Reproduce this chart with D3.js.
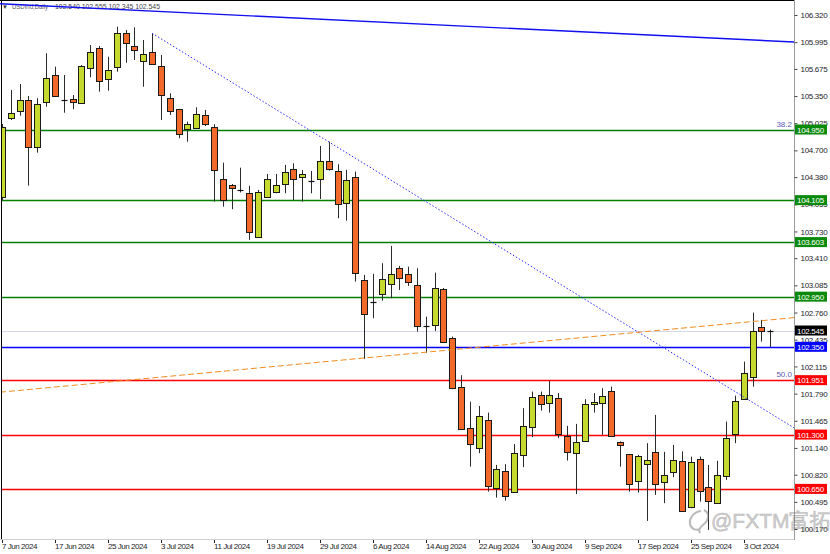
<!DOCTYPE html>
<html><head><meta charset="utf-8">
<script src="https://cdn.jsdelivr.net/npm/d3@7"></script>
<style>
body{margin:0;background:#fff}
svg{display:block}
text{font-family:"Liberation Sans",Arial,sans-serif}
</style>
</head><body>
<svg id="c" width="830" height="554"></svg>
<script>
// ---------- data ----------
const symbol = "USDInd,Daily";
const dates = [
"2024-06-07","2024-06-10","2024-06-11","2024-06-12","2024-06-13","2024-06-14","2024-06-17","2024-06-18","2024-06-19","2024-06-20","2024-06-21","2024-06-24","2024-06-25","2024-06-26","2024-06-27","2024-06-28",
"2024-07-01","2024-07-02","2024-07-03","2024-07-04","2024-07-05","2024-07-08","2024-07-09","2024-07-10","2024-07-11","2024-07-12","2024-07-15","2024-07-16","2024-07-17","2024-07-18","2024-07-19","2024-07-22","2024-07-23","2024-07-24","2024-07-25","2024-07-26","2024-07-29","2024-07-30","2024-07-31",
"2024-08-01","2024-08-02","2024-08-05","2024-08-06","2024-08-07","2024-08-08","2024-08-09","2024-08-12","2024-08-13","2024-08-14","2024-08-15","2024-08-16","2024-08-19","2024-08-20","2024-08-21","2024-08-22","2024-08-23","2024-08-26","2024-08-27","2024-08-28","2024-08-29","2024-08-30",
"2024-09-02","2024-09-03","2024-09-04","2024-09-05","2024-09-06","2024-09-09","2024-09-10","2024-09-11","2024-09-12","2024-09-13","2024-09-16","2024-09-17","2024-09-18","2024-09-19","2024-09-20","2024-09-23","2024-09-24","2024-09-25","2024-09-26","2024-09-27","2024-09-30",
"2024-10-01","2024-10-02","2024-10-03","2024-10-04","2024-10-07","2024-10-08"];
const open = [104.143,105.084,105.172,105.303,104.737,105.283,105.602,105.300,105.312,105.264,105.682,105.922,105.551,105.702,106.108,105.946,
105.773,105.881,105.710,105.324,105.192,104.960,104.972,105.120,104.984,104.362,104.284,104.224,104.187,103.664,104.143,104.206,104.295,104.478,104.379,104.334,104.358,104.574,104.454,
104.068,104.379,103.150,102.891,102.979,103.106,103.297,103.222,103.090,102.600,102.612,103.042,102.453,101.867,101.376,101.137,101.472,100.666,100.862,100.611,101.057,101.388,
101.778,101.682,101.735,101.284,101.077,101.224,101.670,101.673,101.819,101.209,101.066,100.743,100.949,101.089,100.737,100.847,100.987,100.431,101.005,100.670,100.479,
100.806,101.304,101.723,101.993,102.585,102.540];
const high = [105.016,105.423,105.495,105.351,105.324,105.862,105.702,105.602,105.363,105.722,105.961,105.949,105.821,106.180,106.141,106.173,
106.021,106.101,105.842,105.383,105.196,105.044,105.216,105.184,105.013,104.553,104.298,104.493,104.275,104.227,104.418,104.418,104.526,104.546,104.466,104.454,104.753,104.804,104.534,
104.466,104.446,103.210,103.222,103.350,103.557,103.318,103.309,103.290,102.711,103.237,103.054,102.472,102.010,101.694,101.643,101.563,100.937,100.946,101.188,101.615,101.814,
101.814,101.942,101.795,101.404,101.428,101.723,101.795,101.855,101.874,101.218,101.068,101.057,101.197,101.535,101.093,101.176,101.099,101.036,101.036,100.937,100.985,
101.455,101.766,102.173,102.759,102.672,102.555];
const low = [104.107,105.064,105.115,104.278,104.673,105.223,105.351,105.151,105.192,105.260,105.575,105.403,105.415,105.642,105.749,105.782,
105.462,105.722,105.064,105.124,104.845,104.804,104.968,104.992,104.087,104.027,103.996,104.197,103.629,103.652,104.140,104.187,104.187,104.107,104.087,104.187,104.119,104.458,103.888,
103.859,103.130,102.205,102.692,102.902,102.931,103.030,103.078,102.532,102.277,102.540,102.402,101.843,101.360,100.917,101.077,100.618,100.546,100.510,100.607,100.910,101.269,
101.587,101.563,101.257,100.989,100.587,101.220,101.563,101.296,101.276,100.917,100.618,100.606,100.267,100.578,100.479,100.790,100.381,100.419,100.498,100.160,100.471,
100.758,101.197,101.715,101.874,102.412,102.345];
const close = [104.980,105.144,105.303,104.745,105.252,105.563,105.355,105.297,105.276,105.710,105.881,105.534,105.662,106.101,105.981,105.905,
105.854,105.734,105.367,105.172,104.893,105.013,105.132,105.013,104.466,104.107,104.245,104.222,103.721,104.199,104.358,104.286,104.438,104.355,104.418,104.319,104.577,104.478,104.059,
104.346,103.230,102.740,102.889,103.162,103.218,103.170,103.123,102.603,102.598,103.051,102.412,101.862,101.364,101.185,101.523,100.682,100.886,100.570,101.077,101.404,101.754,
101.663,101.771,101.304,101.096,101.216,101.667,101.694,101.763,101.280,101.174,100.710,101.045,100.995,100.707,100.815,100.993,100.387,100.977,100.626,100.507,100.818,
101.257,101.703,102.034,102.540,102.540,102.545];

const tickDates = ["2024-06-07","2024-06-17","2024-06-25","2024-07-03","2024-07-11","2024-07-19","2024-07-29","2024-08-06","2024-08-14","2024-08-22","2024-08-30","2024-09-09","2024-09-17","2024-09-25","2024-10-03"];
const tickLabels = ["7 Jun 2024","17 Jun 2024","25 Jun 2024","3 Jul 2024","11 Jul 2024","19 Jul 2024","29 Jul 2024","6 Aug 2024","14 Aug 2024","22 Aug 2024","30 Aug 2024","9 Sep 2024","17 Sep 2024","25 Sep 2024","3 Oct 2024"];
const priceTicks = [106.320,105.995,105.675,105.350,105.025,104.700,104.380,104.055,103.730,103.410,103.085,102.760,102.435,102.115,101.790,101.465,101.140,100.820,100.495,100.170];

const levelValues = [104.950,104.105,103.603,102.950,102.350,101.951,101.300,100.650];
const levelKinds  = ["res","res","res","res","pivot","sup","sup","sup"];
const fibValues = [104.950,101.951];
const fibLabels = ["38.2","50.0"];
const lastPrice = 102.545;

// trend lines: [bar index, price]
const trendSolid  = [[0,106.453],[89.7,105.997]];
const trendDotted = [[17,106.101],[89.7,101.380]];
const trendOrange = [[0,101.809],[89.7,102.699]];

// ---------- drawing ----------
const plotL = 2, plotR = 794, plotT = 0, plotB = 539;
const svg = d3.select("#c");

const x = d3.scaleLinear().domain([0, 87]).range([2, 770.2]);
const y = d3.scaleLinear().domain([100.170, 106.320]).range([529, 15]);

const colors = {res:"#008000", pivot:"#0000ff", sup:"#ff0000"};

svg.append("defs").append("clipPath").attr("id","plot")
  .append("rect").attr("x",plotL).attr("y",plotT).attr("width",plotR-plotL).attr("height",plotB-plotT);

const g = svg.append("g").attr("clip-path","url(#plot)");

// last price line
g.append("line").attr("x1",plotL).attr("x2",plotR)
  .attr("y1",Math.round(y(lastPrice))+0.5).attr("y2",Math.round(y(lastPrice))+0.5)
  .attr("stroke","#d6d6ea").attr("stroke-width",1);

// horizontal levels
levelValues.forEach((v,i)=>{
  const yy = Math.round(y(v))+0.5;
  g.append("line").attr("x1",plotL).attr("x2",plotR).attr("y1",yy).attr("y2",yy)
    .attr("stroke",colors[levelKinds[i]]).attr("stroke-width",1.3);
});

// fib labels
fibValues.forEach((v,i)=>{
  svg.append("text").attr("x",792).attr("y",y(v)-3).attr("text-anchor","end")
    .attr("font-size",8).attr("fill","#5a5ab4").text(fibLabels[i]);
});

// candles
const candles = g.append("g");
dates.forEach((d,i)=>{
  const cx = Math.round(x(i))+0.5;
  const o=open[i], c=close[i], h=high[i], l=low[i];
  candles.append("line").attr("x1",cx).attr("x2",cx)
    .attr("y1",y(h)).attr("y2",y(l)).attr("stroke","#2a2a2a").attr("stroke-width",1);
  const top = Math.round(y(Math.max(o,c))), bot = Math.round(y(Math.min(o,c)));
  if (bot-top < 1.5) {
    candles.append("line").attr("x1",cx-3).attr("x2",cx+3)
      .attr("y1",top+0.5).attr("y2",top+0.5).attr("stroke","#111").attr("stroke-width",1.2);
  } else {
    candles.append("rect").attr("x",cx-3).attr("y",top+0.5)
      .attr("width",6).attr("height",bot-top)
      .attr("fill", c>=o ? "#c6d92e" : "#f2692a")
      .attr("stroke","#1a1a1a").attr("stroke-width",1);
  }
});

// trend lines
function pix(p){ return [x(p[0]), y(p[1])]; }
function extendLine(a,b,x0,x1){
  const A=pix(a), B=pix(b), s=(B[1]-A[1])/(B[0]-A[0]);
  return [[x0, A[1]+s*(x0-A[0])],[x1, A[1]+s*(x1-A[0])]];
}
const ld = extendLine(trendDotted[0],trendDotted[1],x(trendDotted[0][0]),plotR);
g.append("line").attr("x1",ld[0][0]).attr("y1",ld[0][1]).attr("x2",ld[1][0]).attr("y2",ld[1][1])
  .attr("stroke","#2a2aff").attr("stroke-width",1).attr("stroke-dasharray","1.5,2");
const lo = extendLine(trendOrange[0],trendOrange[1],0,plotR);
g.append("line").attr("x1",lo[0][0]).attr("y1",lo[0][1]).attr("x2",lo[1][0]).attr("y2",lo[1][1])
  .attr("stroke","#f08c1e").attr("stroke-width",1).attr("stroke-dasharray","6,3");

// frame
svg.append("line").attr("x1",0).attr("x2",plotR).attr("y1",0.5).attr("y2",0.5).attr("stroke","#000");
svg.append("line").attr("x1",1.5).attr("x2",1.5).attr("y1",0).attr("y2",plotB).attr("stroke","#000");
svg.append("line").attr("x1",0).attr("x2",plotR).attr("y1",plotB+0.5).attr("y2",plotB+0.5).attr("stroke","#d0d0d0");
svg.append("line").attr("x1",plotR+0.5).attr("x2",plotR+0.5).attr("y1",0).attr("y2",plotB+1).attr("stroke","#9a9a9a");

// right axis
const yAxis = d3.axisRight(y).tickValues(priceTicks).tickSize(3).tickPadding(3).tickFormat(d3.format(".3f"));
const ya = svg.append("g").attr("transform",`translate(${plotR+0.5},0)`).call(yAxis);
ya.select(".domain").remove();
ya.selectAll("line").attr("stroke","#444");
ya.selectAll("text").attr("font-size",8).attr("letter-spacing","-0.3px")
  .attr("fill","#1e1e2a").attr("font-family","Liberation Sans, Arial, sans-serif");

// bottom axis
const xa = svg.append("g");
tickDates.forEach((d,k)=>{
  const xi = Math.round(x(dates.indexOf(d)))+0.5;
  xa.append("line").attr("x1",xi).attr("x2",xi).attr("y1",plotB+1).attr("y2",plotB+4).attr("stroke","#222");
  xa.append("text").attr("x",xi-0.5).attr("y",549).attr("font-size",8).attr("letter-spacing","-0.45px")
    .attr("fill","#1e1e2a").text(tickLabels[k]);
});

// level labels
const lab = svg.append("g");
function boxLabel(v,bg){
  const yy = y(v);
  lab.append("rect").attr("x",795).attr("y",yy-5).attr("width",32).attr("height",10).attr("fill",bg);
  lab.append("text").attr("x",797).attr("y",yy+3).attr("font-size",8).attr("letter-spacing","-0.3px")
    .attr("fill","#fff").text(d3.format(".3f")(v));
}
levelValues.forEach((v,i)=>boxLabel(v, levelKinds[i]==="res" ? "#0a8a0a" : colors[levelKinds[i]]));
boxLabel(lastPrice, "#000");

// title
svg.append("text").attr("x",2).attr("y",9).attr("font-size",6).attr("fill","#333").text("▼");
svg.append("text").attr("x",12).attr("y",9).attr("font-size",8).attr("fill","#555")
  .attr("textLength",36).attr("lengthAdjust","spacingAndGlyphs").text(symbol);
svg.append("text").attr("x",55).attr("y",9).attr("font-size",8).attr("fill","#444")
  .attr("textLength",105).attr("lengthAdjust","spacingAndGlyphs")
  .text([open[87],high[87],low[87],close[87]].map(d3.format(".3f")).join(" "));

// solid trend line (drawn over the title, as in the reference)
const ls = extendLine(trendSolid[0],trendSolid[1],0,plotR);
svg.append("line").attr("x1",ls[0][0]).attr("y1",ls[0][1]).attr("x2",ls[1][0]).attr("y2",ls[1][1])
  .attr("stroke","#1010f0").attr("stroke-width",1.4);

// watermark
const wm = svg.append("g").attr("opacity",0.5);
wm.append("path").attr("d","M701 511 C693 512 689 519 690 524 C691 529 696 531 700 529 M704 510 C710 513 709 520 704 524 C700 527 698 530 700 533")
  .attr("fill","none").attr("stroke","#777").attr("stroke-width",2);
wm.append("text").attr("x",711).attr("y",528).attr("font-size",21)
  .attr("font-family","Noto Sans CJK SC, Noto Sans, sans-serif").attr("fill","#a0a0a0")
  .attr("stroke","#707070").attr("stroke-width",0.5).text("@FXTM富拓");
</script>
</body></html>
